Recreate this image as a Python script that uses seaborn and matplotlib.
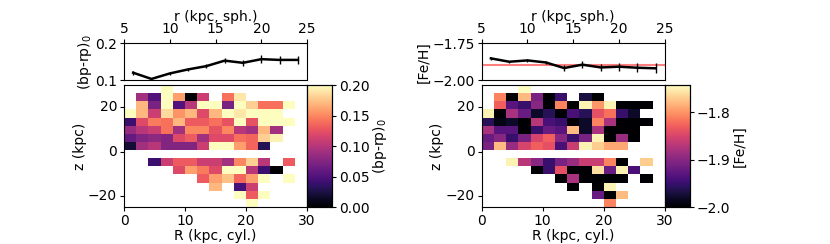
import numpy as np
import matplotlib
matplotlib.use("Agg")
import matplotlib.pyplot as plt
import seaborn as sns

# radial profiles (spherical r)
r_sph = [6, 8, 10, 12, 14, 16, 18, 20, 22, 24]
bprp_prof = [0.120, 0.103, 0.118, 0.129, 0.138, 0.153, 0.147, 0.157, 0.155, 0.155]
bprp_err = [0.006, 0.003, 0.004, 0.004, 0.005, 0.007, 0.008, 0.011, 0.011, 0.012]
feh_prof = [-1.852, -1.875, -1.866, -1.880, -1.918, -1.895, -1.914, -1.909, -1.916, -1.920]
feh_err = [0.010, 0.008, 0.010, 0.012, 0.020, 0.023, 0.023, 0.027, 0.030, 0.034]
feh_mean = -1.90

# R-z maps: 15 R bins (0..30), 15 z bins (-25..30); rows listed from top (z=30) down
R_edges_lim = (0, 30)
z_edges_lim = (-25, 30)
n = None
bprp_map = [
    [n, n, n, 0.20, n, n, n, n, n, n, n, n, n, n, n],
    [n, 0.09, 0.05, 0.20, 0.16, 0.00, 0.11, n, 0.14, 0.19, n, n, n, n, n],
    [n, 0.17, 0.07, 0.20, 0.05, 0.10, 0.20, 0.20, 0.07, 0.20, 0.18, 0.14, 0.14, 0.20, n],
    [0.20, 0.17, 0.11, 0.185, 0.155, 0.17, 0.12, 0.17, 0.20, 0.19, 0.20, 0.20, 0.20, n, n],
    [0.04, 0.12, 0.145, 0.14, 0.17, 0.13, 0.13, 0.14, 0.125, 0.20, 0.125, 0.20, 0.20, 0.20, n],
    [0.085, 0.10, 0.11, 0.14, 0.09, 0.15, 0.15, 0.125, 0.15, 0.10, 0.09, 0.17, 0.09, n, n],
    [0.06, 0.075, 0.08, 0.075, 0.12, 0.13, 0.09, 0.12, 0.12, 0.14, 0.135, 0.18, 0.195, n, n],
    [0.02, 0.09, 0.10, 0.075, 0.075, 0.075, 0.11, 0.20, 0.20, 0.16, 0.135, 0.03, n, n, n],
    [n, n, n, n, n, n, n, n, n, n, n, n, n, n, n],
    [n, n, 0.04, 0.11, 0.13, 0.13, 0.11, 0.11, 0.09, 0.15, 0.18, 0.10, n, 0.13, n],
    [n, n, n, n, 0.12, 0.16, 0.145, 0.12, 0.20, 0.20, 0.10, 0.04, 0.00, n, n],
    [n, n, n, n, n, n, 0.13, 0.16, 0.175, 0.135, 0.16, 0.20, n, 0.20, n],
    [n, n, n, n, n, n, n, 0.17, n, 0.045, 0.11, n, n, n, n],
    [n, n, n, n, n, n, n, n, n, 0.20, 0.13, 0.20, n, n, n],
    [n, n, n, n, n, n, n, n, n, n, 0.20, n, n, n, n],
]
feh_map = [
    [n, n, n, -1.74, n, n, n, n, n, n, n, n, n, n, n],
    [n, -1.81, -2.0, -1.78, -1.91, -2.0, -1.95, n, -1.97, -2.0, n, n, n, n, n],
    [n, -1.83, -1.93, -1.95, -1.90, -2.0, -1.81, -2.0, -1.75, -1.80, -1.75, -2.0, -2.0, -2.0, n],
    [-1.75, -2.0, -1.88, -1.92, -1.98, -1.96, -2.0, -1.94, -1.96, -1.84, -1.82, -1.95, -1.98, n, n],
    [-1.96, -1.99, -1.98, -2.0, -1.87, -1.94, -1.95, -2.0, -1.98, -1.81, -1.88, -2.0, -2.0, -2.0, n],
    [-1.88, -1.93, -1.93, -2.0, -1.95, -1.92, -1.93, -1.78, -1.98, -1.88, -2.0, -2.0, -2.0, n, n],
    [-1.92, -1.90, -1.95, -1.91, -1.85, -1.83, -1.90, -1.95, -1.91, -1.75, -2.0, -1.89, -2.0, n, n],
    [-1.91, -1.78, -1.89, -1.85, -1.83, -1.84, -1.94, -1.86, -1.75, -1.77, -1.79, -1.79, n, n, n],
    [n, n, n, n, n, n, n, n, n, n, n, n, n, n, n],
    [n, n, -1.75, -1.87, -1.90, -1.95, -1.91, -1.89, -1.86, -1.86, -1.81, -2.0, n, -1.77, n],
    [n, n, n, n, -2.0, -1.95, -1.84, -2.0, -2.0, -1.76, -1.92, -1.75, -1.94, n, n],
    [n, n, n, n, n, n, -2.0, -1.88, -2.0, -2.0, -2.0, -2.0, n, -2.0, n],
    [n, n, n, n, n, n, n, -2.0, n, -2.0, -1.75, n, n, n, n],
    [n, n, n, n, n, n, n, n, n, -1.92, -2.0, -1.78, n, n, n],
    [n, n, n, n, n, n, n, n, n, n, -1.81, n, n, n, n],
]

plt.rcParams['font.size'] = 10
plt.rcParams['xtick.major.size'] = 3
plt.rcParams['ytick.major.size'] = 3
plt.rcParams['xtick.major.pad'] = 2
plt.rcParams['ytick.major.pad'] = 2
fig = plt.figure(figsize=(8.3, 2.44), dpi=100)


def to_grid(rows):
    """Rows listed top-down -> array with z increasing along axis 0."""
    arr = np.array([[np.nan if v is None else v for v in row] for row in rows], dtype=float)
    return np.flipud(arr)


def draw_panel(x0, prof, err, ylim, yticks, ylab, grid, vmin, vmax, cticks, clab, hline=None):
    w, cw = 0.2205, 0.0305
    ax_top = fig.add_axes([x0, 0.672, w, 0.150])
    ax_map = fig.add_axes([x0, 0.1516, w, 0.50])
    cax = fig.add_axes([x0 + w, 0.1516, cw, 0.50])

    # profile
    if hline is not None:
        ax_top.axhline(hline, color='red', alpha=0.5, lw=1.5)
    sns.lineplot(x=r_sph, y=prof, ax=ax_top, color='black', lw=1.8)
    ax_top.errorbar(r_sph, prof, yerr=err, fmt='none', ecolor='black', elinewidth=1)
    ax_top.set_xlim(5, 25)
    ax_top.set_ylim(*ylim)
    ax_top.set_yticks(yticks)
    ax_top.set_xticks([5, 10, 15, 20, 25])
    ax_top.xaxis.tick_top()
    ax_top.xaxis.set_label_position('top')
    ax_top.set_xlabel("r (kpc, sph.)", labelpad=1)
    ax_top.set_ylabel(ylab, labelpad=1)

    # R-z map
    nz, nr = grid.shape
    sns.heatmap(grid, ax=ax_map, cmap='magma', vmin=vmin, vmax=vmax,
                cbar_ax=cax, cbar_kws={'ticks': cticks})
    ax_map.set_ylim(0, nz)
    ax_map.set_xlim(0, nr)
    dR = (R_edges_lim[1] - R_edges_lim[0]) / nr
    dz = (z_edges_lim[1] - z_edges_lim[0]) / nz
    xt = [0, 10, 20, 30]
    zt = [-20, 0, 20]
    ax_map.set_xticks([(v - R_edges_lim[0]) / dR for v in xt])
    ax_map.set_xticklabels([str(v) for v in xt], rotation=0)
    ax_map.set_yticks([(v - z_edges_lim[0]) / dz for v in zt])
    ax_map.set_yticklabels([str(v).replace('-', '\u2212') for v in zt], rotation=0)
    for s in ax_map.spines.values():
        s.set_visible(True)
        s.set_linewidth(0.8)
        s.set_color('black')
    ax_map.tick_params(length=3, width=0.8, pad=2)
    ax_map.set_xlabel("R (kpc, cyl.)", labelpad=1)
    ax_map.set_ylabel("z (kpc)", labelpad=1)

    cax.set_ylabel(clab, labelpad=1)
    cax.tick_params(length=3, width=0.8, pad=2)
    for s in cax.spines.values():
        s.set_visible(True)
        s.set_linewidth(0.8)


draw_panel(0.1494, bprp_prof, bprp_err, (0.1, 0.2), [0.1, 0.2], "(bp-rp)$_0$",
           to_grid(bprp_map), 0.0, 0.2, [0.0, 0.05, 0.10, 0.15, 0.20], "(bp-rp)$_0$")
draw_panel(0.5804, feh_prof, feh_err, (-2.0, -1.75), [-2.0, -1.75], "[Fe/H]",
           to_grid(feh_map), -2.0, -1.743, [-2.0, -1.9, -1.8], "[Fe/H]", hline=feh_mean)

fig.savefig("out.png", dpi=100)
